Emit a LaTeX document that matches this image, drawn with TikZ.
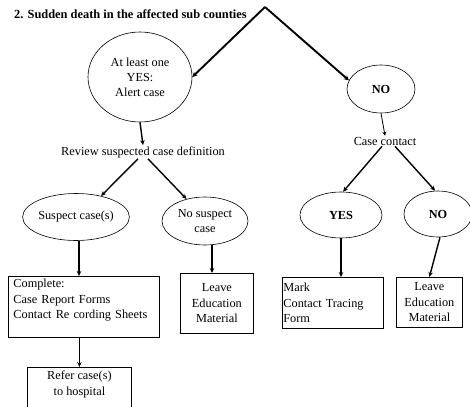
\documentclass[tikz,border=0pt]{standalone}
\usepackage{fontspec}
\setmainfont{Liberation Serif}
\usetikzlibrary{shapes.geometric,arrows.meta}

\tikzset{
  oval/.style={draw, ellipse, line width=0.6pt, inner sep=0pt, align=center,
               font=\fontsize{12.3}{15}\selectfont},
  answer/.style={oval, font=\bfseries\fontsize{12.3}{15}\selectfont},
  stepbox/.style={draw, rectangle, line width=0.8pt, inner sep=0pt, align=center,
               font=\fontsize{12.3}{15.5}\selectfont},
  label/.style={inner sep=1pt, font=\fontsize{12.3}{14}\selectfont},
  arr/.style={line width=1.4pt, -{Stealth[length=5pt,width=4.5pt]}},
  bigarr/.style={line width=1.9pt, -{Stealth[length=5pt,width=5pt]}},
}

\begin{document}
\begin{tikzpicture}[x=1pt,y=-1pt]
  \useasboundingbox (0,0) rectangle (470,406);

  % heading
  \node[anchor=west, inner sep=0pt, font=\bfseries\fontsize{12.4}{14}\selectfont]
    (title) at (14,14) {2. Sudden death in the affected sub counties};
  \coordinate (apex) at (265,7);

  % first split
  \node[oval, minimum width=104pt, minimum height=90pt] (alert) at (140,77)
    {At least one\\YES:\\Alert case};
  \node[answer, minimum width=68pt, minimum height=48pt] (no1) at (381,89) {NO};

  % left branch
  \node[label] (review) at (143,152) {Review suspected case definition};
  \node[oval, minimum width=95pt, minimum height=47pt] (suspect) at (76,217) {Suspect case(s)};
  \node[oval, minimum width=86pt, minimum height=48pt] (nosusp) at (205,221) {No suspect\\case};

  % right branch
  \node[label] (contact) at (385,141) {Case contact};
  \node[answer, minimum width=82pt, minimum height=46pt] (yes) at (341,215) {YES};
  \node[answer, minimum width=68pt, minimum height=46pt] (no2) at (438,214) {NO};

  % action boxes
  \node[stepbox, align=left, text width=141pt, minimum width=151pt, minimum height=61pt,
        anchor=north west, inner xsep=5pt] (complete) at (8,276)
    {Complete:\\Case Report Forms\\Contact Re cording Sheets\\\mbox{}};
  \node[stepbox, minimum width=73pt, minimum height=60pt, anchor=north west] (leave1) at (180,273)
    {Leave\\Education\\Material};
  \node[stepbox, align=left, text width=99pt, minimum width=101pt, minimum height=51pt,
        anchor=north west, inner xsep=1pt] (mark) at (282,277)
    {Mark\\Contact Tracing\\Form};
  \node[stepbox, minimum width=66pt, minimum height=50pt, anchor=north west] (leave2) at (396,277)
    {Leave\\Education\\Material};
  \node[stepbox, minimum width=104pt, minimum height=50pt, anchor=north west,
        text depth=18pt] (refer) at (27,367)
    {Refer case(s)\\to hospital};

  % connectors
  \draw[bigarr] (apex) -- (alert.east);
  \draw[bigarr] (apex) -- (no1.165);
  \draw[arr] (alert.south) -- (review.north);
  \draw[arr] ([xshift=-5pt]review.south) -- (suspect.40);
  \draw[arr] ([xshift=5pt]review.south) -- (nosusp.130);
  \draw[line width=0.8pt, -{Stealth[length=4pt,width=4pt]}] (no1.south) -- (contact.north);
  \draw[arr] ([xshift=-3pt]contact.south) -- (yes.85);
  \draw[arr] ([xshift=10pt]contact.south) -- (no2.97);
  \draw[arr] ([xshift=3pt]suspect.south) -- ([xshift=3pt]suspect.south |- complete.north);
  \draw[arr] ([xshift=7pt]nosusp.south) -- ([xshift=7pt]nosusp.south |- leave1.north);
  \draw[arr] (yes.south) -- (yes.south |- mark.north);
  \draw[arr] ([xshift=2pt]no2.south) -- (leave2.north);
  \draw[arr] (refer.north |- complete.south) -- (refer.north);
\end{tikzpicture}
\end{document}
